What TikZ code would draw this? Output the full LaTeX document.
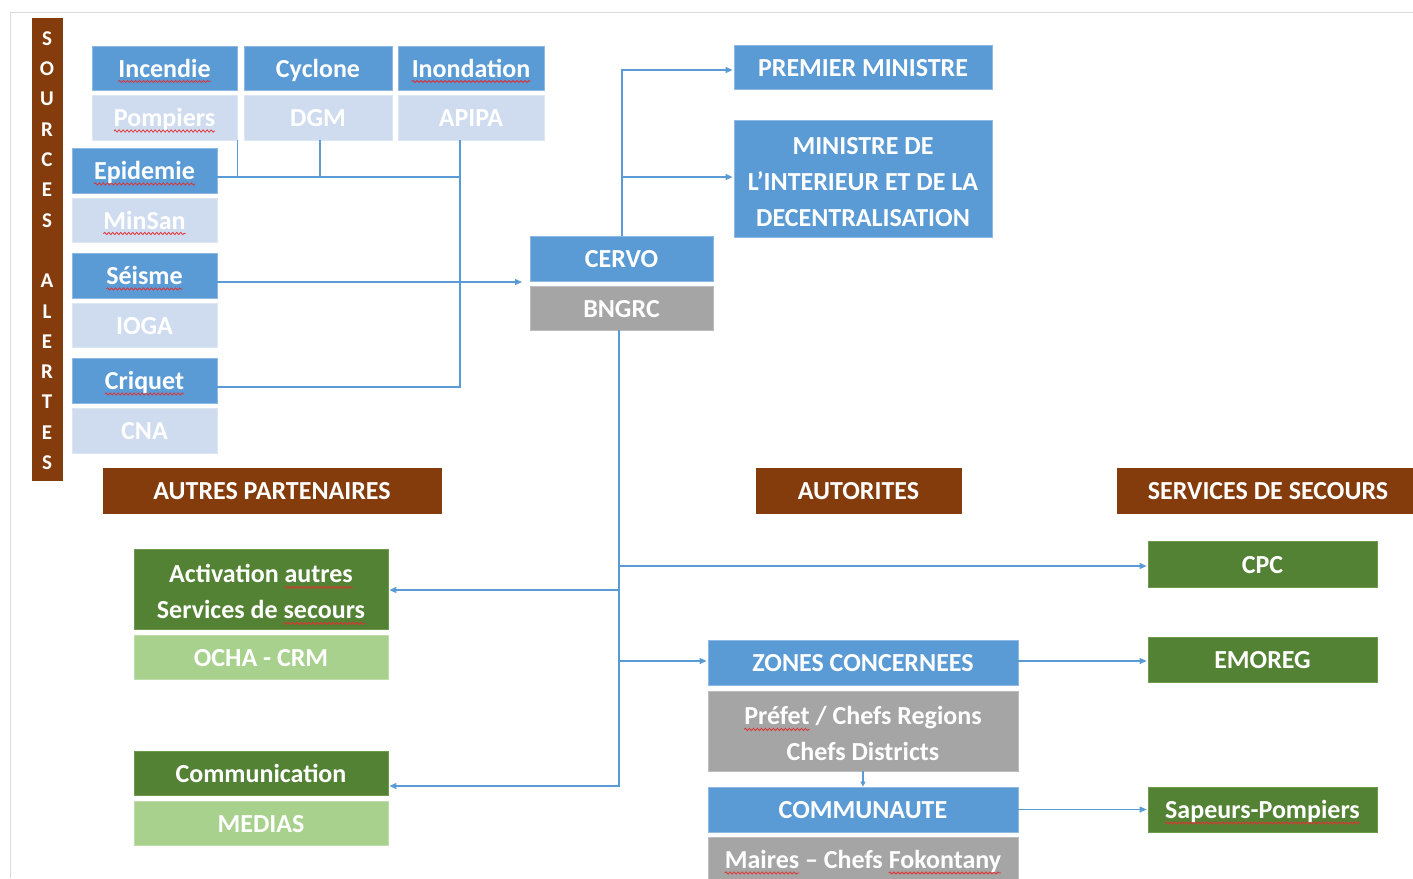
\documentclass[tikz,border=0pt]{standalone}
\usepackage{fontspec}
\setmainfont{Carlito}
\usetikzlibrary{arrows.meta,decorations.pathmorphing}
\definecolor{bluF}{HTML}{5B9BD5}
\definecolor{bluE}{HTML}{8FB8E3}
\definecolor{bluL}{HTML}{CFDCEF}
\definecolor{bluLE}{HTML}{DDE7F4}
\definecolor{grF}{HTML}{A5A5A5}
\definecolor{grE}{HTML}{BDBDBD}
\definecolor{brF}{HTML}{843C0C}
\definecolor{gnD}{HTML}{548235}
\definecolor{gnDE}{HTML}{6E9A50}
\definecolor{gnL}{HTML}{A9D18E}
\definecolor{gnLE}{HTML}{BEDDAA}
\definecolor{frameC}{HTML}{D9D9D9}
\definecolor{waveC}{HTML}{E03030}
\newsavebox\sqbox
\newlength\sqlen
\newcommand\sq[1]{\sbox\sqbox{#1}\setlength\sqlen{\wd\sqbox}%
  \rlap{\tikz[overlay,baseline=0pt]\draw[waveC,line width=0.8pt,decorate,
    decoration={snake,amplitude=1.1pt,segment length=4pt}]
    (0pt,-4.5pt) -- (\sqlen,-4.5pt);}\usebox\sqbox}
\newcommand\topstrut{\rule{0pt}{24pt}}
\tikzset{
  bx/.style={inner sep=0pt, align=center, text=white,
    font=\fontsize{26}{36}\selectfont\bfseries, line width=0.8pt},
  bx1/.style={bx, text height=18pt, text depth=0pt},
  cblu/.style={fill=bluF, draw=bluE},
  cblul/.style={fill=bluL, draw=bluLE},
  cgry/.style={fill=grF, draw=grE},
  cbrn/.style={fill=brF, draw=brF},
  cgnd/.style={fill=gnD, draw=gnDE},
  cgnl/.style={fill=gnL, draw=gnLE},
  conn/.style={draw=bluF, line width=1.2pt},
  arr/.style={conn, -{Triangle[length=7pt,width=6pt]}, shorten >=1pt}
}
\begin{document}
\begin{tikzpicture}[x=1pt,y=-1pt]
\useasboundingbox (0,0) rectangle (1413,878);
\fill[white] (0,0) rectangle (1413,878);
% frame
\draw[frameC, line width=1pt] (10,878) -- (10,12) -- (1413,12);
% side bar
\node[bx, cbrn, minimum width=30pt, minimum height=462pt,
  font=\fontsize{21}{30.3}\selectfont\bfseries] (side) at (47,249)
  {\rule{0pt}{17pt}S\\O\\U\\R\\C\\E\\S\\{}\\A\\L\\E\\R\\T\\E\\S};
% sources
\node[bx1, cblu, minimum width=145pt, minimum height=44pt] (inc) at (164.5,68) {\sq{Incendie}};
\node[bx1, cblul, minimum width=145pt, minimum height=45pt] (pom) at (164.5,117.5) {\sq{Pompiers}};
\node[bx1, cblu, minimum width=148pt, minimum height=44pt] (cyc) at (318,68) {Cyclone};
\node[bx1, cblul, minimum width=148pt, minimum height=45pt] (dgm) at (318,117.5) {DGM};
\node[bx1, cblu, minimum width=146pt, minimum height=44pt] (ino) at (471,68) {\sq{Inondation}};
\node[bx1, cblul, minimum width=146pt, minimum height=45pt] (api) at (471,117.5) {APIPA};
\node[bx1, cblu, minimum width=145pt, minimum height=45pt] (epi) at (144.5,170.5) {\sq{Epidemie}};
\node[bx1, cblul, minimum width=145pt, minimum height=44pt] (msa) at (144.5,220) {\sq{MinSan}};
\node[bx1, cblu, minimum width=145pt, minimum height=45pt] (sei) at (144.5,275.5) {\sq{Séisme}};
\node[bx1, cblul, minimum width=145pt, minimum height=44pt] (ioga) at (144.5,325) {IOGA};
\node[bx1, cblu, minimum width=145pt, minimum height=45pt] (cri) at (144.5,380.5) {\sq{Criquet}};
\node[bx1, cblul, minimum width=145pt, minimum height=45pt] (cna) at (144.5,430.5) {CNA};
% centre
\node[bx1, cblu, minimum width=183pt, minimum height=45pt] (cervo) at (621.5,258.5) {CERVO};
\node[bx1, cgry, minimum width=183pt, minimum height=44pt] (bngrc) at (621.5,308) {BNGRC};
% authorities top
\node[bx1, cblu, minimum width=258pt, minimum height=44pt] (pm) at (863,67) {PREMIER MINISTRE};
\node[bx, cblu, minimum width=258pt, minimum height=117pt] (mint) at (863,178.5)
  {\topstrut MINISTRE DE\\L’INTERIEUR ET DE LA\\DECENTRALISATION};
% headers
\node[bx1, cbrn, minimum width=338pt, minimum height=45pt] (ap) at (272,490.5) {AUTRES PARTENAIRES};
\node[bx1, cbrn, minimum width=205pt, minimum height=45pt] (aut) at (858.5,490.5) {AUTORITES};
\node[bx1, cbrn, minimum width=302pt, minimum height=45pt] (ss) at (1268,490.5) {SERVICES DE SECOURS};
% partners
\node[bx, cgnd, minimum width=254pt, minimum height=80pt] (act) at (261,589)
  {\topstrut Activation \sq{autres}\\Services de \sq{secours}};
\node[bx1, cgnl, minimum width=254pt, minimum height=44pt] (ocha) at (261,657) {OCHA - CRM};
\node[bx1, cgnd, minimum width=254pt, minimum height=44pt] (com) at (261,773) {Communication};
\node[bx1, cgnl, minimum width=254pt, minimum height=44pt] (med) at (261,823) {MEDIAS};
% zones
\node[bx1, cblu, minimum width=310pt, minimum height=45pt] (zon) at (863,662.5) {ZONES CONCERNEES};
\node[bx, cgry, minimum width=310pt, minimum height=80pt] (pre) at (863,731)
  {\topstrut\sq{Préfet} / Chefs Regions\\Chefs Districts};
\node[bx1, cblu, minimum width=310pt, minimum height=45pt] (cmt) at (863,809.5) {COMMUNAUTE};
\node[bx1, cgry, minimum width=310pt, minimum height=45pt] (mai) at (863,859.5)
  {\sq{Maires} – Chefs \sq{Fokontany}};
% rescue services
\node[bx1, cgnd, minimum width=229pt, minimum height=46pt] (cpc) at (1262.5,564) {CPC};
\node[bx1, cgnd, minimum width=229pt, minimum height=45pt] (emo) at (1262.5,659.5) {EMOREG};
\node[bx1, cgnd, minimum width=229pt, minimum height=45pt] (sap) at (1262.5,809.5) {\sq{Sapeurs-Pompiers}};
% junction coordinates
\coordinate (j1) at (460,177);
\coordinate (j2) at (460,387);
\coordinate (a1) at (523,282);
\coordinate (t1) at (622,70);
\coordinate (t2) at (622,177);
\coordinate (b1) at (619,566);
\coordinate (b2) at (619,590);
\coordinate (b3) at (619,661);
\coordinate (b4) at (619,786);
% source connectors
\draw[conn] (epi.east |- j1) -- (j1);
\draw[conn] (pom.south east) -- (pom.south east |- j1);
\draw[conn] (dgm.south) ++(2,0) -- (320,177);
\draw[conn] (api.south -| j1) -- (j2) -- (cri.east |- j2);
\draw[arr] (sei.east |- a1) -- (a1);
% upper connectors
\draw[arr] (cervo.north -| t1) -- (t1) -- (pm.west |- t1);
\draw[arr] (t2) -- (mint.west |- t2);
% lower trunk
\draw[arr] (bngrc.south -| b4) -- (b4) -- (com.east |- b4);
\draw[arr] (b1) -- (cpc.west |- b1);
\draw[arr] (b2) -- (act.east |- b2);
\draw[arr] (b3) -- (zon.west |- b3);
% zones connectors
\draw[arr] (zon.east |- 0,661) -- (emo.west |- 0,661);
\draw[arr] (cmt.east) -- (sap.west |- cmt.east);
\draw[conn, -{Triangle[length=5pt,width=5pt]}] (pre.south) -- (cmt.north);
\end{tikzpicture}
\end{document}
